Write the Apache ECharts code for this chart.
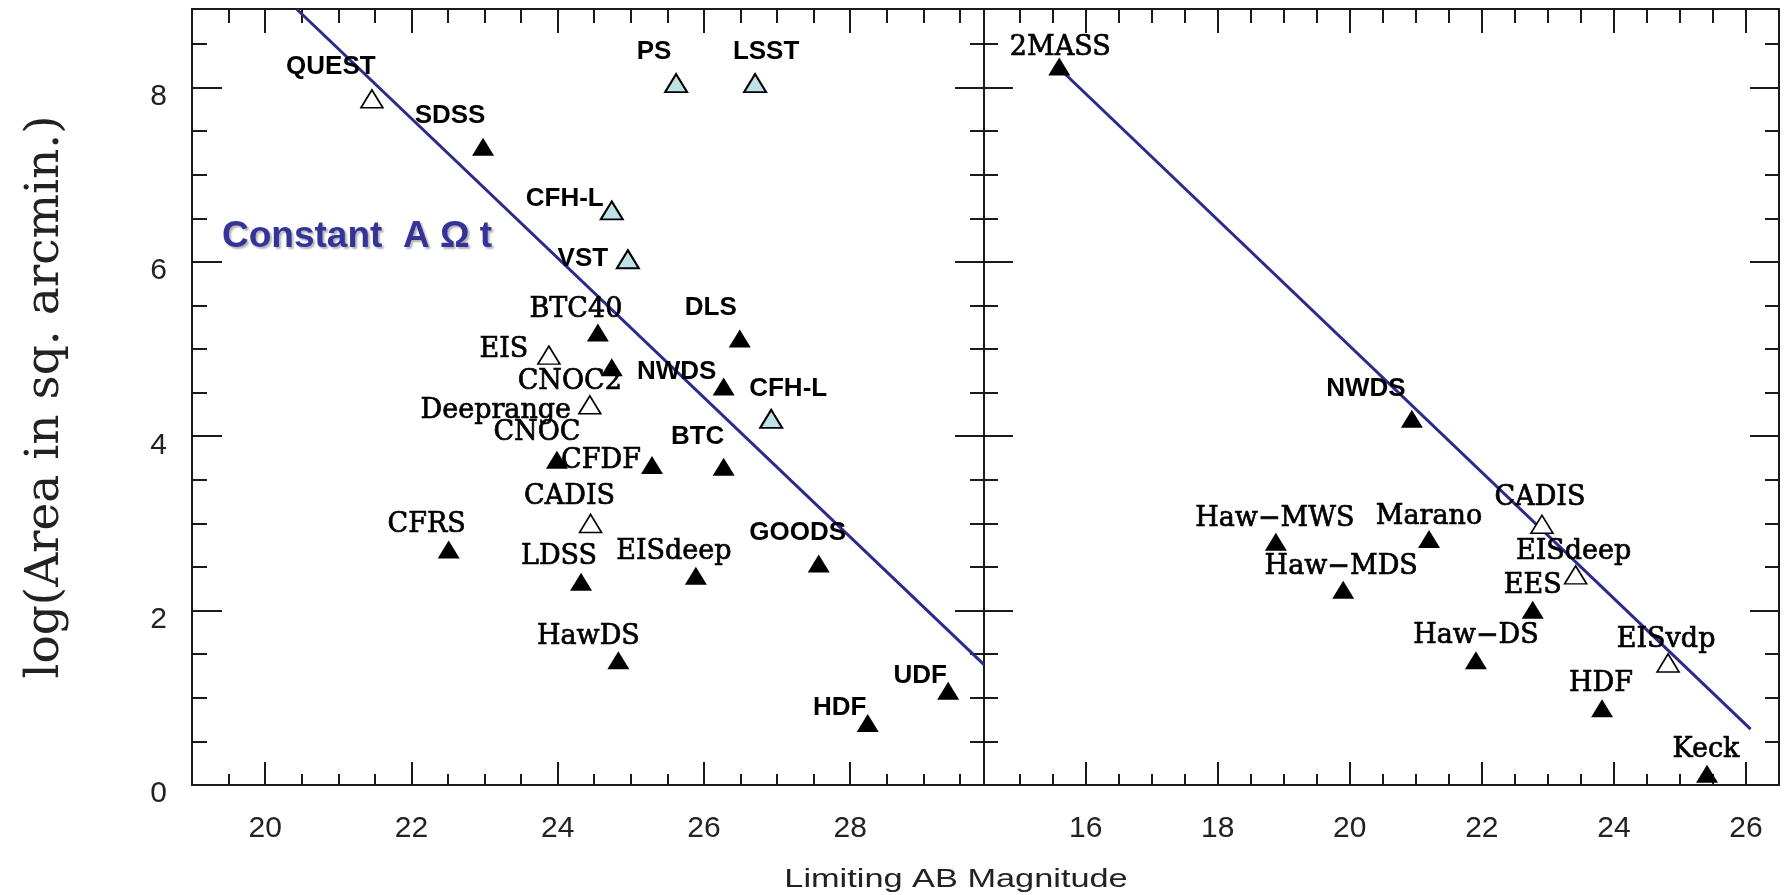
<!DOCTYPE html>
<html><head><meta charset="utf-8">
<script src="https://cdn.jsdelivr.net/npm/echarts@6/dist/echarts.min.js"></script>
<style>html,body{margin:0;padding:0;background:#fff}#c{width:1788px;height:895px}</style>
</head><body><div id="c"></div>
<script>
// ---------------- DATA ----------------
// Left panel (optical surveys)
const leftNames   = ['QUEST','SDSS','PS','LSST','CFH-L','VST','BTC40','DLS','EIS','CNOC2','NWDS','CFH-L','Deeprange','CNOC','CFDF','BTC','CADIS','CFRS','GOODS','EISdeep','LDSS','HawDS','UDF','HDF'];
const leftMag     = [21.46,22.98,25.62,26.70,24.74,24.96,24.55,26.49,23.88,24.74,26.27,26.92,24.44,23.99,25.29,26.27,24.45,22.51,27.57,25.89,24.32,24.83,29.34,28.24];
const leftLogArea = [7.87,7.32,8.05,8.05,6.59,6.03,5.19,5.12,4.93,4.79,4.57,4.20,4.36,3.73,3.67,3.65,3.00,2.70,2.54,2.40,2.33,1.43,1.08,0.71];
const leftKind    = ['open','filled','future','future','future','future','filled','filled','open','filled','filled','future','open','filled','filled','filled','open','filled','filled','filled','filled','filled','filled','filled'];

// Right panel (near-IR surveys)
const rightNames   = ['2MASS','NWDS','Haw\u2212MWS','Marano','CADIS','EISdeep','Haw\u2212MDS','EES','Haw\u2212DS','EISvdp','HDF','Keck'];
const rightMag     = [15.60,20.94,18.88,21.20,22.91,23.42,19.90,22.77,21.91,24.82,23.82,25.41];
const rightLogArea = [8.24,4.20,2.79,2.82,2.99,2.41,2.24,2.01,1.43,1.40,0.88,0.13];
const rightKind    = ['filled','filled','filled','filled','open','open','filled','filled','filled','open','filled','filled'];

// Constant A-Omega-t lines (end points)
const leftLineMag    = [20.43, 29.83];
const leftLineArea   = [8.90, 1.38];
const rightLineMag   = [15.68, 26.07];
const rightLineArea  = [8.16, 0.64];

// Axis ticks / labels
const xMajorLeft  = [20, 22, 24, 26, 28];
const xMinorLeft  = [19.5, 20.5, 21, 21.5, 22.5, 23, 23.5, 24.5, 25, 25.5, 26.5, 27, 27.5, 28.5, 29, 29.5];
const xMajorRight = [16, 18, 20, 22, 24, 26];
const xMinorRight = [15, 15.5, 16.5, 17, 17.5, 18.5, 19, 19.5, 20.5, 21, 21.5, 22.5, 23, 23.5, 24.5, 25, 25.5];
const yMajor      = [0, 2, 4, 6, 8];
const yMinor      = [0.5, 1, 1.5, 2.5, 3, 3.5, 4.5, 5, 5.5, 6.5, 7, 7.5, 8.5];
const leftRange   = [19, 29.83];
const rightRange  = [14.46, 26.5];
const yRange      = [0, 8.9];

// ---------------- STYLE ----------------
// label placement relative to the marker [dx, dy, font]
const leftLabelStyle = [[-41,-32,'sans'],[-33,-31,'sans'],[-22,-31,'sans'],[11,-31,'sans'],[-47,-12,'sans'],[-45,0,'sans'],
  [-22,-22,'serif'],[-29,-31,'sans'],[-45,-5,'serif'],[-42,15,'serif'],[-47,-15,'sans'],[17,-30,'sans'],[-94,6,'serif'],
  [-20,-27,'serif'],[-51,-4,'serif'],[-26,-30,'sans'],[-21,-26,'serif'],[-22,-25,'serif'],[-21,-31,'sans'],[-22,-24,'serif'],
  [-22,-25,'serif'],[-30,-23,'serif'],[-28,-15,'sans'],[-28,-15,'sans']];
const rightLabelStyle = [[1,-19,'serif'],[-46,-30,'sans'],[-1,-23,'serif'],[0,-22,'serif'],[-2,-26,'serif'],[-2,-23,'serif'],
  [-2,-23,'serif'],[0,-24,'serif'],[0,-24,'serif'],[-2,-23,'serif'],[-1,-24,'serif'],[-1,-24,'serif']];

const AX = '#1a1a1a';
const kindStyle = {
  filled: { color: '#000', borderColor: '#000', borderWidth: 0, opacity: 1 },
  open:   { color: '#fff', borderColor: '#000', borderWidth: 1.6, opacity: 1 },
  future: { color: '#bfe2e4', borderColor: '#000', borderWidth: 2, opacity: 1 }
};
const labelFonts = {
  sans:  { fontFamily: 'Liberation Sans', fontSize: 26, fontWeight: 'bold', color: '#000' },
  serif: { fontFamily: 'DejaVu Serif', fontSize: 27, fontWeight: 'normal', color: '#000', textBorderColor: '#000', textBorderWidth: 0.7 }
};

function xAx(g, range, pos, ticks, len, showLine, labels) {
  return {
    type: 'value', gridIndex: g, min: range[0], max: range[1], position: pos,
    axisLine: { show: showLine, onZero: false, lineStyle: { color: AX, width: 2 } },
    axisTick: { show: true, inside: true, length: len, customValues: ticks, lineStyle: { color: AX, width: 2 } },
    axisLabel: labels ? { show: true, customValues: labels, margin: 29, fontFamily: 'Liberation Sans', fontSize: 30, color: '#222' } : { show: false },
    splitLine: { show: false }
  };
}
function yAx(g, pos, ticks, len, showLine, labels) {
  return {
    type: 'value', gridIndex: g, min: yRange[0], max: yRange[1], position: pos,
    axisLine: { show: showLine, onZero: false, lineStyle: { color: AX, width: 2 } },
    axisTick: { show: true, inside: true, length: len, customValues: ticks, lineStyle: { color: AX, width: 2 } },
    axisLabel: labels ? { show: true, customValues: labels, margin: 25, fontFamily: 'Liberation Sans', fontSize: 30, color: '#222', verticalAlign: 'top', lineHeight: 18 } : { show: false },
    splitLine: { show: false }
  };
}

const xAxes = [
  xAx(0, leftRange, 'bottom', xMajorLeft, 23, true, xMajorLeft),
  xAx(0, leftRange, 'bottom', xMinorLeft, 11, false, null),
  xAx(0, leftRange, 'top', xMajorLeft, 24, true, null),
  xAx(0, leftRange, 'top', xMinorLeft, 14, false, null),
  xAx(1, rightRange, 'bottom', xMajorRight, 23, true, xMajorRight),
  xAx(1, rightRange, 'bottom', xMinorRight, 11, false, null),
  xAx(1, rightRange, 'top', xMajorRight, 24, true, null),
  xAx(1, rightRange, 'top', xMinorRight, 14, false, null)
];
const yAxes = [
  yAx(0, 'left', yMajor, 30, true, yMajor),
  yAx(0, 'left', yMinor, 15, false, null),
  yAx(0, 'right', yMajor, 29, true, null),
  yAx(0, 'right', yMinor, 14, false, null),
  yAx(1, 'left', yMajor, 29, true, null),
  yAx(1, 'left', yMinor, 14, false, null),
  yAx(1, 'right', yMajor, 29, true, null),
  yAx(1, 'right', yMinor, 14, false, null)
];
yAxes[0].name = 'log(Area in sq. arcmin.)';
yAxes[0].nameLocation = 'middle';
yAxes[0].nameGap = 123;
yAxes[0].nameTextStyle = { fontFamily: 'DejaVu Serif', fontSize: 47, color: '#222' };

function panelSeries(g, names, mags, areas, kinds, styles) {
  const out = [];
  ['future', 'open', 'filled'].forEach(kind => {
    const data = [];
    names.forEach((n, i) => {
      if (kinds[i] !== kind) return;
      const st = styles[i];
      data.push({
        name: n, value: [mags[i], areas[i]],
        label: Object.assign({ show: true, position: 'inside', offset: [st[0], st[1]], formatter: '{b}' }, labelFonts[st[2]])
      });
    });
    out.push({
      type: 'scatter', xAxisIndex: g * 4, yAxisIndex: g * 4, symbol: 'triangle', symbolSize: [22, 18],
      itemStyle: kindStyle[kind], data: data, z: 5, emphasis: { disabled: true }
    });
  });
  return out;
}
function lineSeries(g, mags, areas) {
  return {
    type: 'line', xAxisIndex: g * 4, yAxisIndex: g * 4, data: mags.map((m, i) => [m, areas[i]]),
    symbol: 'none', showSymbol: false, lineStyle: { color: '#2b2b8c', width: 3 }, z: 3, silent: true
  };
}

const chart = echarts.init(document.getElementById('c'), null, { renderer: 'canvas' });
chart.setOption({
  animation: false,
  backgroundColor: '#fff',
  grid: [
    { left: 192, top: 9, width: 792, height: 776 },
    { left: 984, top: 9, width: 795, height: 776 }
  ],
  xAxis: xAxes,
  yAxis: yAxes,
  series: [
    lineSeries(0, leftLineMag, leftLineArea),
    lineSeries(1, rightLineMag, rightLineArea)
  ].concat(panelSeries(0, leftNames, leftMag, leftLogArea, leftKind, leftLabelStyle))
   .concat(panelSeries(1, rightNames, rightMag, rightLogArea, rightKind, rightLabelStyle)),
  graphic: [
    { type: 'text', x: 956, y: 880, scaleX: 1.32, z: 10,
      style: { text: 'Limiting AB Magnitude', font: '26px "Liberation Sans"', fill: '#222', align: 'center', verticalAlign: 'middle', textAlign: 'center', textVerticalAlign: 'middle' } },
    { type: 'text', x: 222, y: 237, z: 10,
      style: { text: 'Constant  A \u03A9 t', font: 'bold 37px "Liberation Sans"', fill: '#333399', align: 'left', verticalAlign: 'middle', textAlign: 'left', textVerticalAlign: 'middle',
        textShadowColor: 'rgba(0,0,0,0.3)', textShadowOffsetX: 2, textShadowOffsetY: 2, textShadowBlur: 2 } }
  ]
});
</script>
</body></html>
